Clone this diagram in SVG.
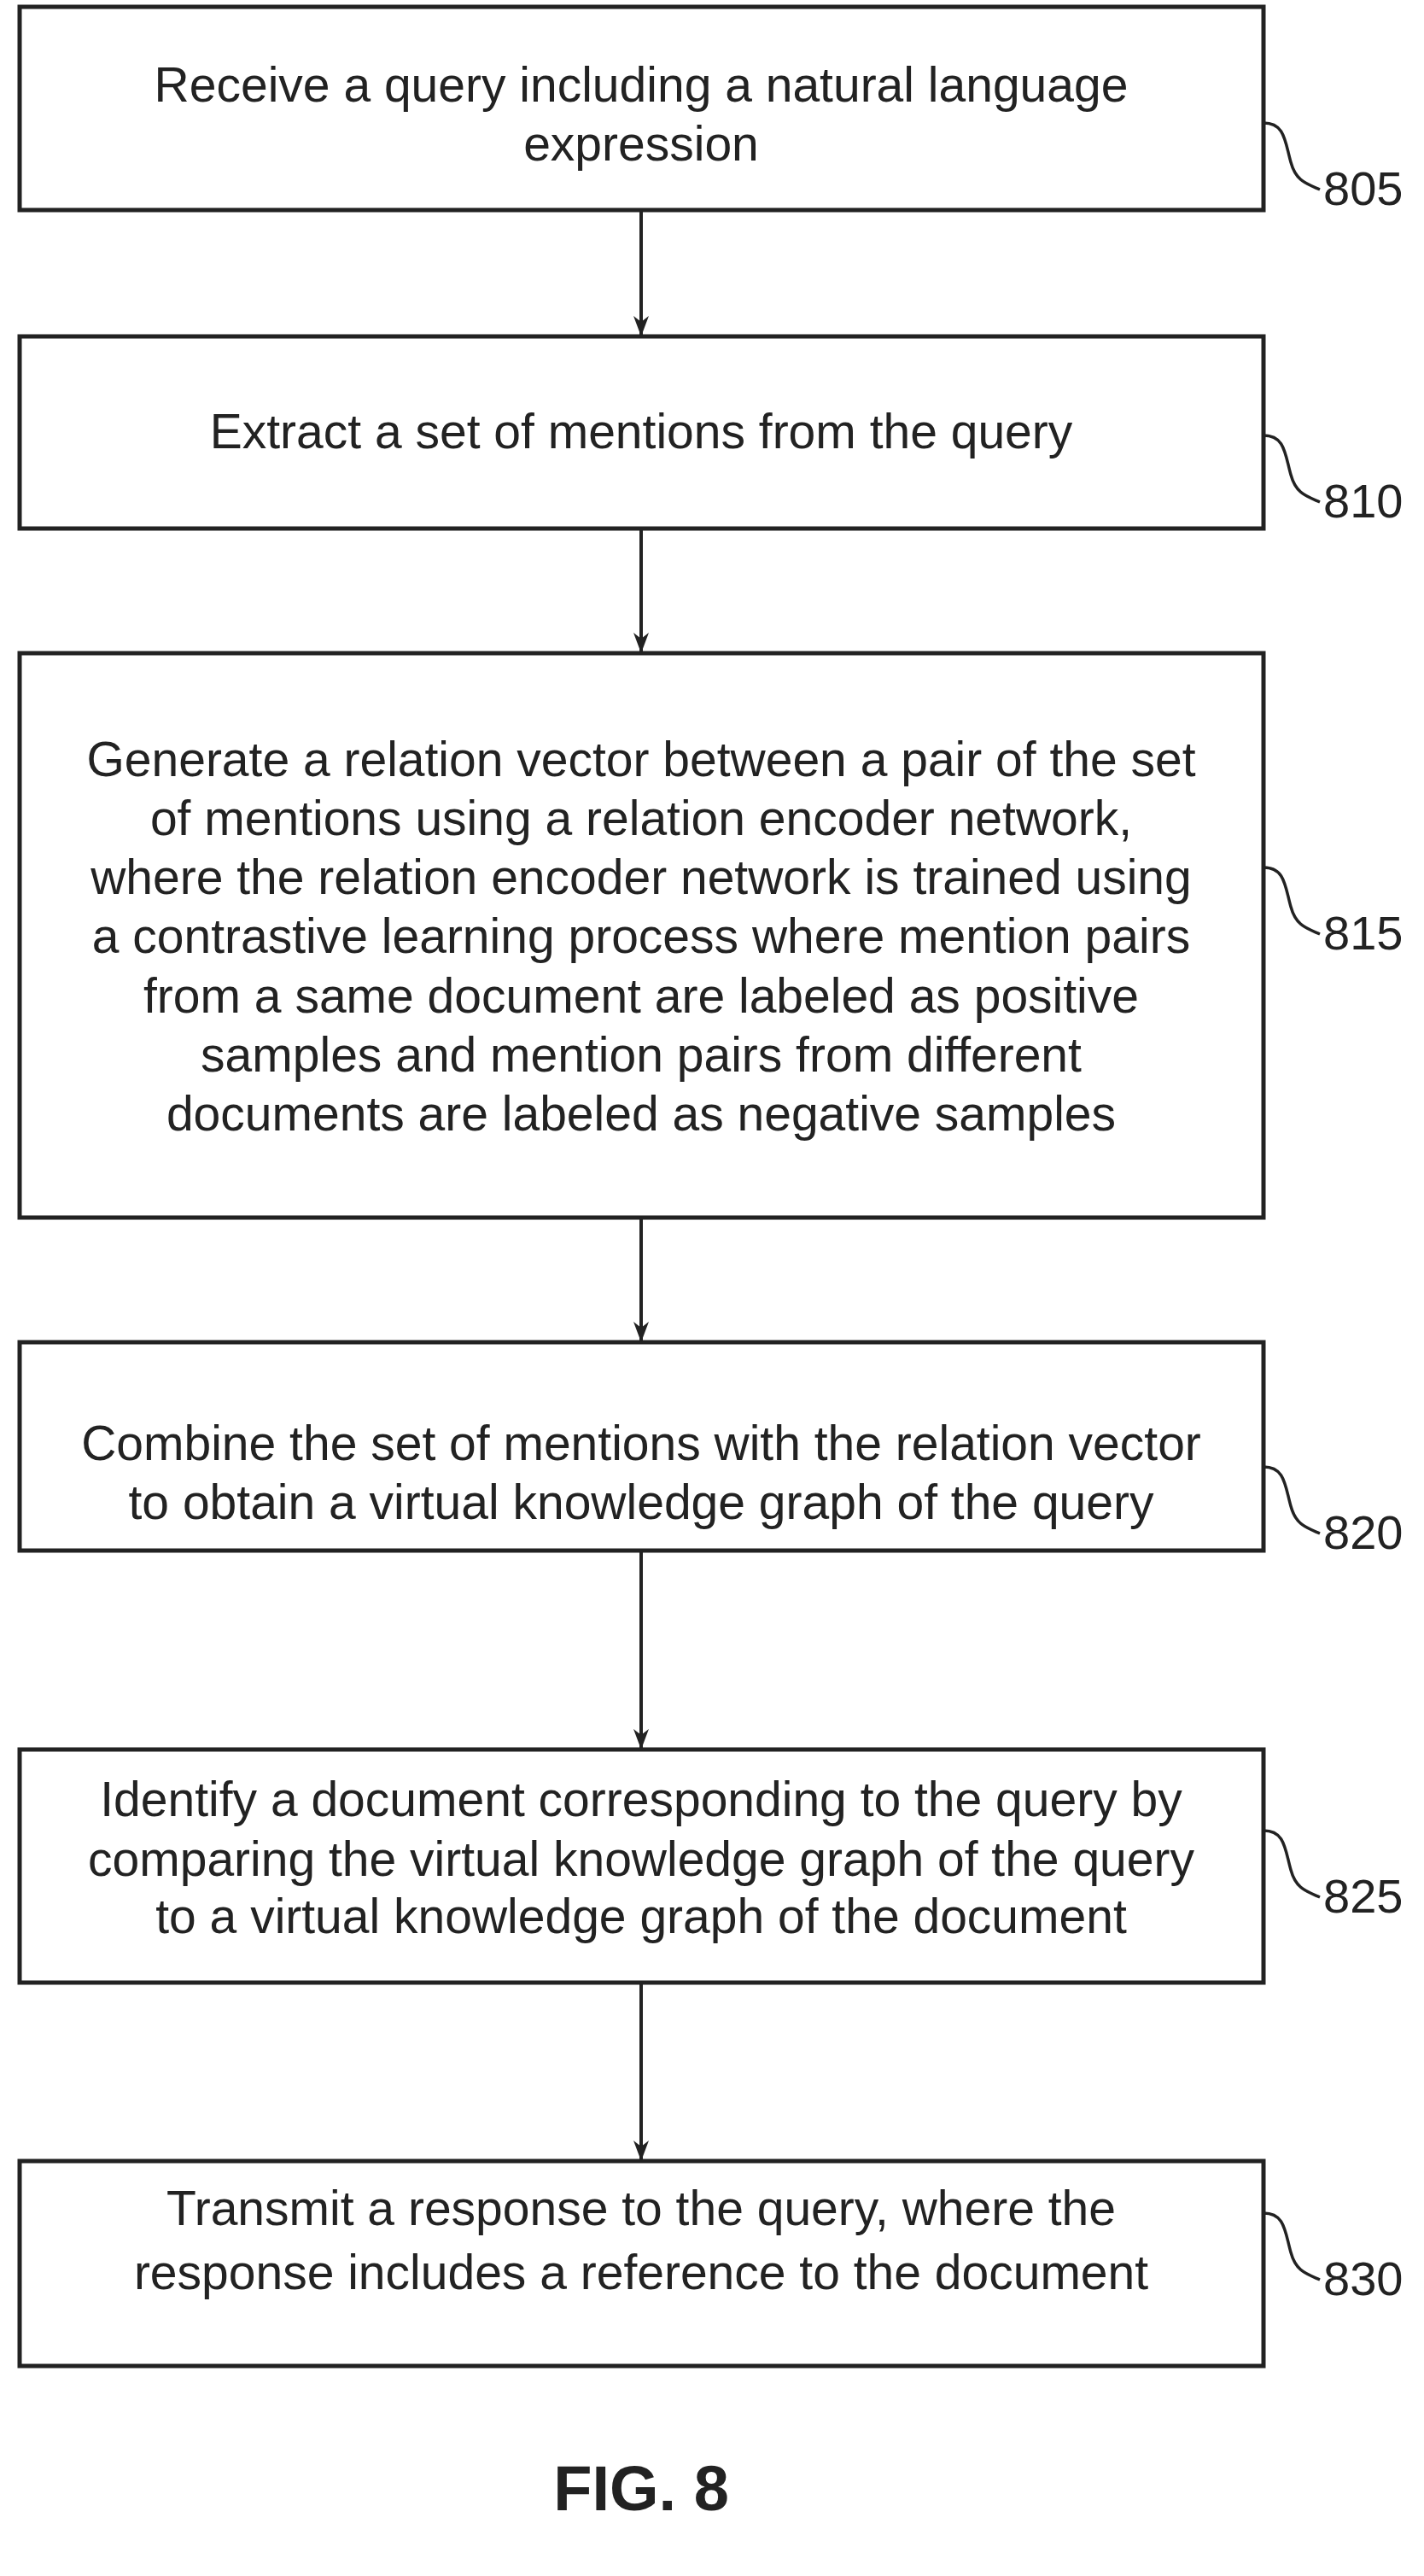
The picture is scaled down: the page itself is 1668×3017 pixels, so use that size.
<svg xmlns="http://www.w3.org/2000/svg" width="1668" height="3017" viewBox="0 0 1668 3017">
<defs>
<marker id="ah" markerWidth="24" markerHeight="26" refX="22" refY="12" orient="auto" markerUnits="userSpaceOnUse" viewBox="0 0 24 24"><path d="M0,3 L24,12 L0,21 L7,12 Z" fill="#222"/></marker>
</defs>
<style>
.box{fill:#fff;stroke:#222;stroke-width:5}
.t{font-family:"Liberation Sans",Arial,sans-serif;font-size:57px;fill:#222;text-anchor:middle}
.n{font-family:"Liberation Sans",Arial,sans-serif;font-size:56px;fill:#222}
.c{fill:none;stroke:#222;stroke-width:4}
.lead{fill:none;stroke:#222;stroke-width:3.5}
</style>
<rect width="1668" height="3017" fill="#fff"/>
<g id="n805"><rect class="box" x="23" y="8" width="1457" height="238"/>
<text class="t"><tspan x="751" y="119">Receive a query including a natural language</tspan><tspan x="751" y="188">expression</tspan></text>
<path class="lead" d="M1480,144 C1505,144 1505,165 1512,190 C1518,212 1530,215 1546,222"/><text class="n" x="1550" y="240">805</text></g>
<g id="n810"><rect class="box" x="23" y="394" width="1457" height="225"/>
<text class="t"><tspan x="751" y="525">Extract a set of mentions from the query</tspan></text>
<path class="lead" d="M1480,510 C1505,510 1505,531 1512,556 C1518,578 1530,581 1546,588"/><text class="n" x="1550" y="606">810</text></g>
<g id="n815"><rect class="box" x="23" y="765" width="1457" height="661"/>
<text class="t"><tspan x="751" y="909">Generate a relation vector between a pair of the set</tspan><tspan x="751" y="978">of mentions using a relation encoder network,</tspan><tspan x="751" y="1047">where the relation encoder network is trained using</tspan><tspan x="751" y="1116">a contrastive learning process where mention pairs</tspan><tspan x="751" y="1186">from a same document are labeled as positive</tspan><tspan x="751" y="1255">samples and mention pairs from different</tspan><tspan x="751" y="1324">documents are labeled as negative samples</tspan></text>
<path class="lead" d="M1480,1016 C1505,1016 1505,1037 1512,1062 C1518,1084 1530,1087 1546,1094"/><text class="n" x="1550" y="1112">815</text></g>
<g id="n820"><rect class="box" x="23" y="1572" width="1457" height="244"/>
<text class="t"><tspan x="751" y="1710">Combine the set of mentions with the relation vector</tspan><tspan x="751" y="1779">to obtain a virtual knowledge graph of the query</tspan></text>
<path class="lead" d="M1480,1718 C1505,1718 1505,1739 1512,1764 C1518,1786 1530,1789 1546,1796"/><text class="n" x="1550" y="1814">820</text></g>
<g id="n825"><rect class="box" x="23" y="2049" width="1457" height="273"/>
<text class="t"><tspan x="751" y="2127">Identify a document corresponding to the query by</tspan><tspan x="751" y="2197">comparing the virtual knowledge graph of the query</tspan><tspan x="751" y="2264">to a virtual knowledge graph of the document</tspan></text>
<path class="lead" d="M1480,2144 C1505,2144 1505,2165 1512,2190 C1518,2212 1530,2215 1546,2222"/><text class="n" x="1550" y="2240">825</text></g>
<g id="n830"><rect class="box" x="23" y="2531" width="1457" height="240"/>
<text class="t"><tspan x="751" y="2606">Transmit a response to the query, where the</tspan><tspan x="751" y="2681">response includes a reference to the document</tspan></text>
<path class="lead" d="M1480,2592 C1505,2592 1505,2613 1512,2638 C1518,2660 1530,2663 1546,2670"/><text class="n" x="1550" y="2688">830</text></g>
<g id="connectors">
<line class="c" x1="751" y1="246" x2="751" y2="392" marker-end="url(#ah)"/>
<line class="c" x1="751" y1="619" x2="751" y2="763" marker-end="url(#ah)"/>
<line class="c" x1="751" y1="1426" x2="751" y2="1570" marker-end="url(#ah)"/>
<line class="c" x1="751" y1="1816" x2="751" y2="2047" marker-end="url(#ah)"/>
<line class="c" x1="751" y1="2322" x2="751" y2="2529" marker-end="url(#ah)"/>
</g>
<text x="751" y="2940" style="font-family:'Liberation Sans',Arial,sans-serif;font-size:74px;font-weight:bold;fill:#222;text-anchor:middle">FIG. 8</text>
</svg>
